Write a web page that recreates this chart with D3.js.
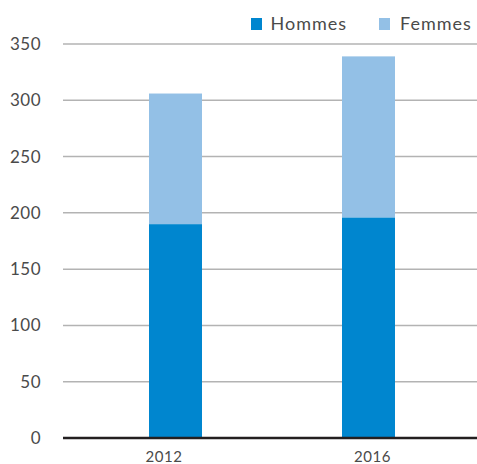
<!DOCTYPE html>
<html><head><meta charset="utf-8">
<script src="https://cdn.jsdelivr.net/npm/d3@7"></script>
<style>body{margin:0;background:#fff}svg{display:block}text{font-family:Lato,"Open Sans",sans-serif}</style>
</head><body>
<script>
const categories = ["2012", "2016"];
const hommes = [190, 196];
const femmes = [116, 143];
const seriesNames = ["Hommes", "Femmes"];
const yTicks = [0, 50, 100, 150, 200, 250, 300, 350];

const W = 477, H = 464;
const colors = {Hommes: "#0086cf", Femmes: "#93c0e6"};
const svg = d3.select("body").append("svg").attr("width", W).attr("height", H);

const y = d3.scaleLinear().domain([0, 350]).range([438, 44]);
const x = d3.scaleBand().domain(categories).range([63, 481]).paddingInner(0.7254).paddingOuter(0.4456);
const xl = d3.scalePoint().domain(categories).range([164, 372.5]);

// gridlines
svg.append("g").selectAll("line").data(yTicks.filter(d => d > 0)).join("line")
  .attr("x1", 63).attr("x2", W).attr("y1", d => y(d)).attr("y2", d => y(d))
  .attr("stroke", "#b3b3b3").attr("stroke-width", 1.5);

// y labels
svg.append("g").selectAll("text").data(yTicks).join("text")
  .attr("x", 41).attr("y", d => y(d)).attr("dy", "0.35em").attr("text-anchor", "end")
  .attr("font-size", 17).attr("letter-spacing", 0.5).attr("fill", "#4a4a4a").text(d => d);

// stacked bars
const rows = categories.map((c, i) => ({cat: c, Hommes: hommes[i], Femmes: femmes[i]}));
const stack = d3.stack().keys(seriesNames)(rows);
svg.append("g").selectAll("g").data(stack).join("g").attr("fill", s => colors[s.key])
  .selectAll("rect").data(s => s).join("rect")
  .attr("x", d => x(d.data.cat)).attr("width", x.bandwidth())
  .attr("y", d => y(d[1])).attr("height", d => y(d[0]) - y(d[1]));

// baseline
svg.append("line").attr("x1", 63).attr("x2", W).attr("y1", y(0)).attr("y2", y(0))
  .attr("stroke", "#231f20").attr("stroke-width", 2.5);

// x labels
svg.append("g").selectAll("text").data(categories).join("text")
  .attr("x", d => xl(d)).attr("y", 462).attr("text-anchor", "middle")
  .attr("font-size", 15).attr("letter-spacing", 0.5).attr("fill", "#4a4a4a").text(d => d);

// legend
const legX = [251, 379];
const leg = svg.append("g").selectAll("g").data(seriesNames).join("g")
  .attr("transform", (d, i) => `translate(${legX[i]},0)`);
leg.append("rect").attr("x", 0).attr("y", 18).attr("width", 11).attr("height", 12).attr("fill", d => colors[d]);
leg.append("text").attr("x", (d, i) => i === 0 ? 19.5 : 21).attr("y", 30).attr("font-size", 18)
  .attr("letter-spacing", 1).attr("fill", "#4a4a4a").text(d => d);
</script>
</body></html>
